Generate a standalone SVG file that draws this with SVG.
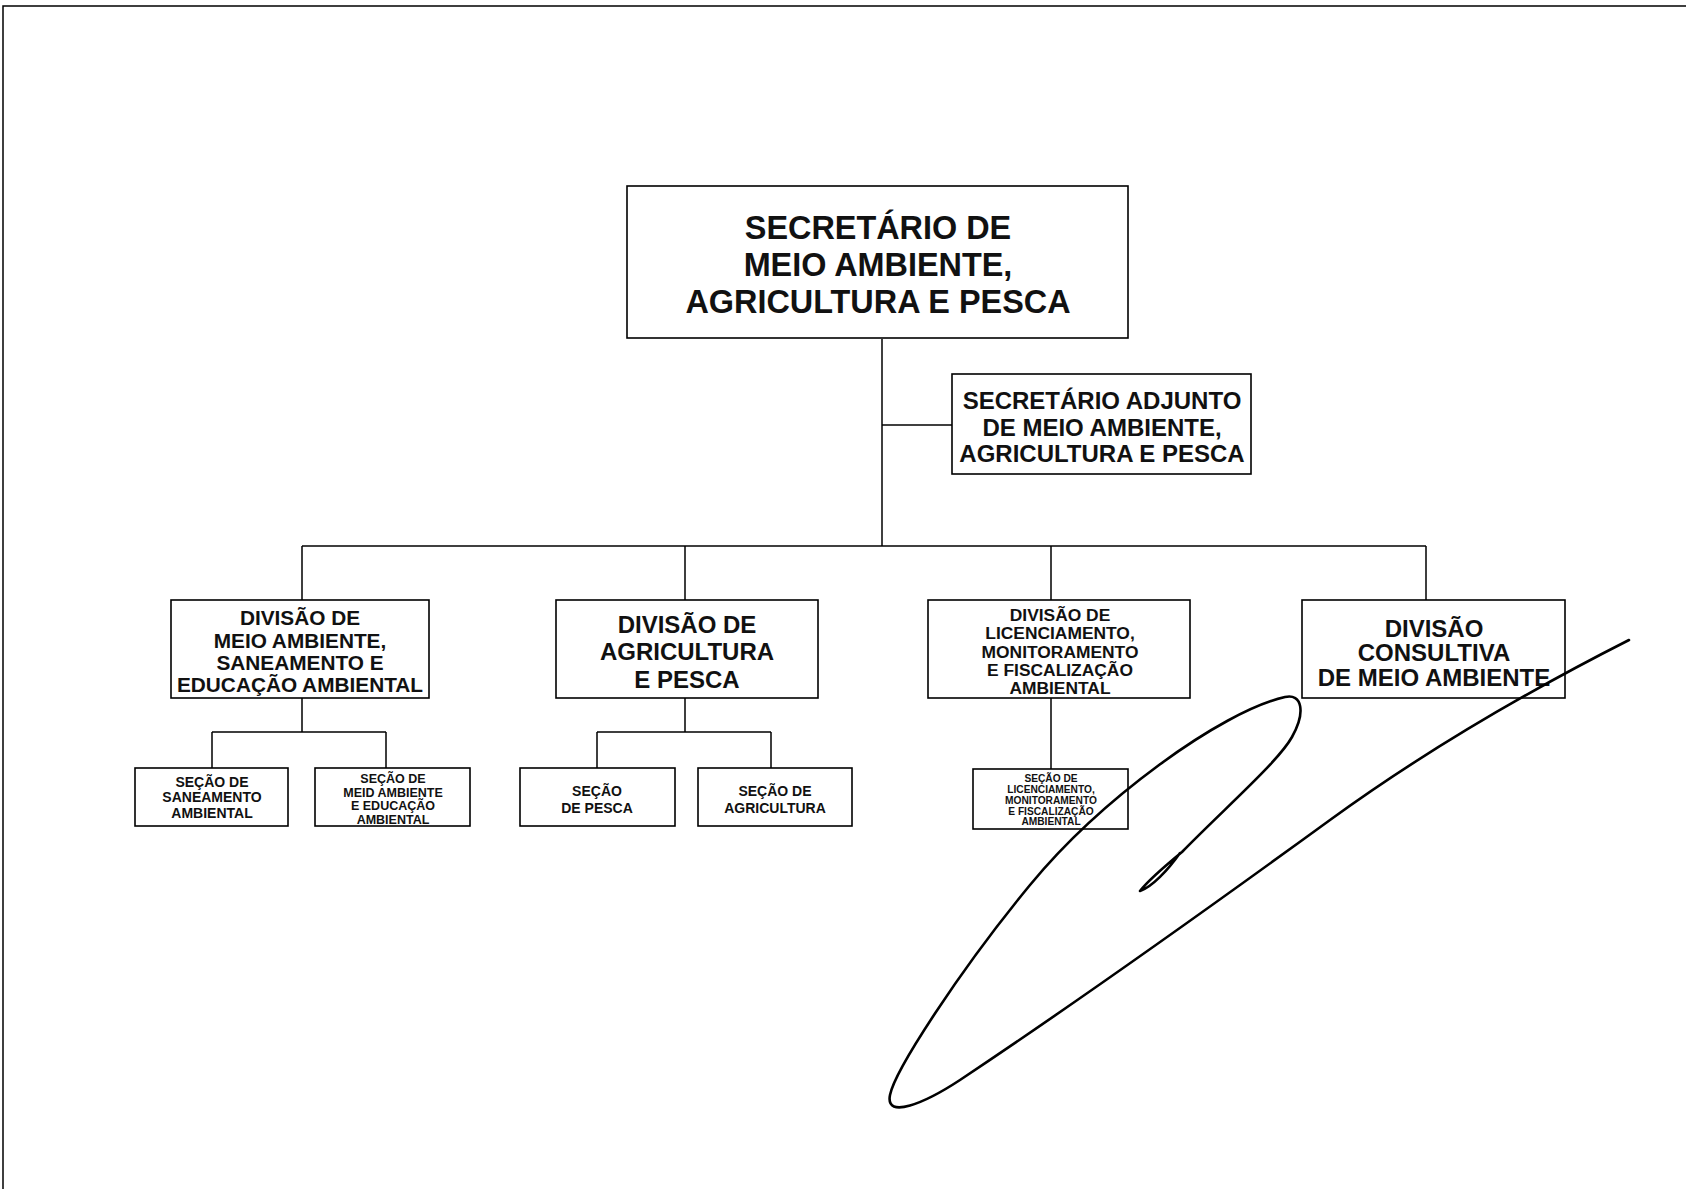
<svg xmlns="http://www.w3.org/2000/svg" width="1686" height="1189" viewBox="0 0 1686 1189">
  <style>
    .box { fill: #ffffff; stroke: #000000; stroke-width: 1.6; }
    .conn { fill: none; stroke: #000000; stroke-width: 1.5; }
    .frame { fill: none; stroke: #000000; stroke-width: 1.5; }
    .ink { fill: none; stroke: #000000; stroke-width: 2.6; stroke-linecap: round; stroke-linejoin: round; }
    text { font-family: "Liberation Sans", Arial, sans-serif; font-weight: bold; text-anchor: middle; fill: #111111; }
    .t-main { font-size: 32.4px; }
    .t-adj { font-size: 24px; }
    .t-div1 { font-size: 20.8px; }
    .t-div { font-size: 24px; }
    .t-div3 { font-size: 17.4px; }
    .t-sec { font-size: 14px; }
    .t-sec2 { font-size: 12.5px; }
    .t-sec5 { font-size: 10.2px; }
  </style>

  <rect width="1686" height="1189" fill="#ffffff"/>

  <!-- page frame -->
  <path class="frame" d="M3,1189 V6 H1686"/>

  <!-- connectors -->
  <g id="connectors">
    <path class="conn" d="M882,339 V546"/>
    <path class="conn" d="M882,425 H952"/>
    <path class="conn" d="M302,546 H1426"/>
    <path class="conn" d="M302,546 V600 M685,546 V600 M1051,546 V600 M1426,546 V600"/>
    <path class="conn" d="M302,698 V732 M212,732 H386 M212,732 V768 M386,732 V768"/>
    <path class="conn" d="M685,698 V732 M597,732 H771 M597,732 V768 M771,732 V768"/>
    <path class="conn" d="M1051,698 V769"/>
  </g>

  <!-- top level -->
  <g id="secretario">
    <rect class="box" x="627" y="186" width="501" height="152"/>
    <text class="t-main" x="878" y="239">SECRETÁRIO DE</text>
    <text class="t-main" x="878" y="276">MEIO AMBIENTE,</text>
    <text class="t-main" x="878" y="313">AGRICULTURA E PESCA</text>
  </g>

  <g id="secretario-adjunto">
    <rect class="box" x="952" y="374" width="299" height="100"/>
    <text class="t-adj" x="1102" y="409">SECRETÁRIO ADJUNTO</text>
    <text class="t-adj" x="1102" y="436">DE MEIO AMBIENTE,</text>
    <text class="t-adj" x="1102" y="462">AGRICULTURA E PESCA</text>
  </g>

  <!-- divisions -->
  <g id="div-meio-ambiente">
    <rect class="box" x="171" y="600" width="258" height="98"/>
    <text class="t-div1" x="300" y="625">DIVISÃO DE</text>
    <text class="t-div1" x="300" y="648">MEIO AMBIENTE,</text>
    <text class="t-div1" x="300" y="670">SANEAMENTO E</text>
    <text class="t-div1" x="300" y="692">EDUCAÇÃO AMBIENTAL</text>
  </g>

  <g id="div-agricultura">
    <rect class="box" x="556" y="600" width="262" height="98"/>
    <text class="t-div" x="687" y="633">DIVISÃO DE</text>
    <text class="t-div" x="687" y="660">AGRICULTURA</text>
    <text class="t-div" x="687" y="688">E PESCA</text>
  </g>

  <g id="div-licenciamento">
    <rect class="box" x="928" y="600" width="262" height="98"/>
    <text class="t-div3" x="1060" y="621">DIVISÃO DE</text>
    <text class="t-div3" x="1060" y="639">LICENCIAMENTO,</text>
    <text class="t-div3" x="1060" y="658">MONITORAMENTO</text>
    <text class="t-div3" x="1060" y="676">E FISCALIZAÇÃO</text>
    <text class="t-div3" x="1060" y="694">AMBIENTAL</text>
  </g>

  <g id="div-consultiva">
    <rect class="box" x="1302" y="600" width="263" height="98"/>
    <text class="t-div" x="1434" y="637">DIVISÃO</text>
    <text class="t-div" x="1434" y="661">CONSULTIVA</text>
    <text class="t-div" x="1434" y="686">DE MEIO AMBIENTE</text>
  </g>

  <!-- sections -->
  <g id="sec-saneamento">
    <rect class="box" x="135" y="768" width="153" height="58"/>
    <text class="t-sec" x="212" y="787">SEÇÃO DE</text>
    <text class="t-sec" x="212" y="802">SANEAMENTO</text>
    <text class="t-sec" x="212" y="818">AMBIENTAL</text>
  </g>

  <g id="sec-meio-ambiente">
    <rect class="box" x="315" y="768" width="155" height="58"/>
    <text class="t-sec2" x="393" y="783">SEÇÃO DE</text>
    <text class="t-sec2" x="393" y="796.5">MEID AMBIENTE</text>
    <text class="t-sec2" x="393" y="810">E EDUCAÇÃO</text>
    <text class="t-sec2" x="393" y="823.5">AMBIENTAL</text>
  </g>

  <g id="sec-pesca">
    <rect class="box" x="520" y="768" width="155" height="58"/>
    <text class="t-sec" x="597" y="796">SEÇÃO</text>
    <text class="t-sec" x="597" y="812.5">DE PESCA</text>
  </g>

  <g id="sec-agricultura">
    <rect class="box" x="698" y="768" width="154" height="58"/>
    <text class="t-sec" x="775" y="796">SEÇÃO DE</text>
    <text class="t-sec" x="775" y="812.5">AGRICULTURA</text>
  </g>

  <g id="sec-licenciamento">
    <rect class="box" x="973" y="769" width="155" height="60"/>
    <text class="t-sec5" x="1051" y="781.5">SEÇÃO DE</text>
    <text class="t-sec5" x="1051" y="792.5">LICENCIAMENTO,</text>
    <text class="t-sec5" x="1051" y="803.5">MONITORAMENTO</text>
    <text class="t-sec5" x="1051" y="814.5">E FISCALIZAÇÃO</text>
    <text class="t-sec5" x="1051" y="825">AMBIENTAL</text>
  </g>

  <!-- handwritten signature stroke -->
  <path class="ink" d="M1629,640 C1560,675 1440,740 1330,820 S1080,1000 960,1080 C925,1103 885,1120 890,1095 C895,1070 960,970 1030,885 S1220,712 1285,697 C1302,693 1306,712 1292,737 S1225,808 1182,852 C1165,866 1147,882 1140,891 C1152,887 1168,870 1180,853"/>
</svg>
